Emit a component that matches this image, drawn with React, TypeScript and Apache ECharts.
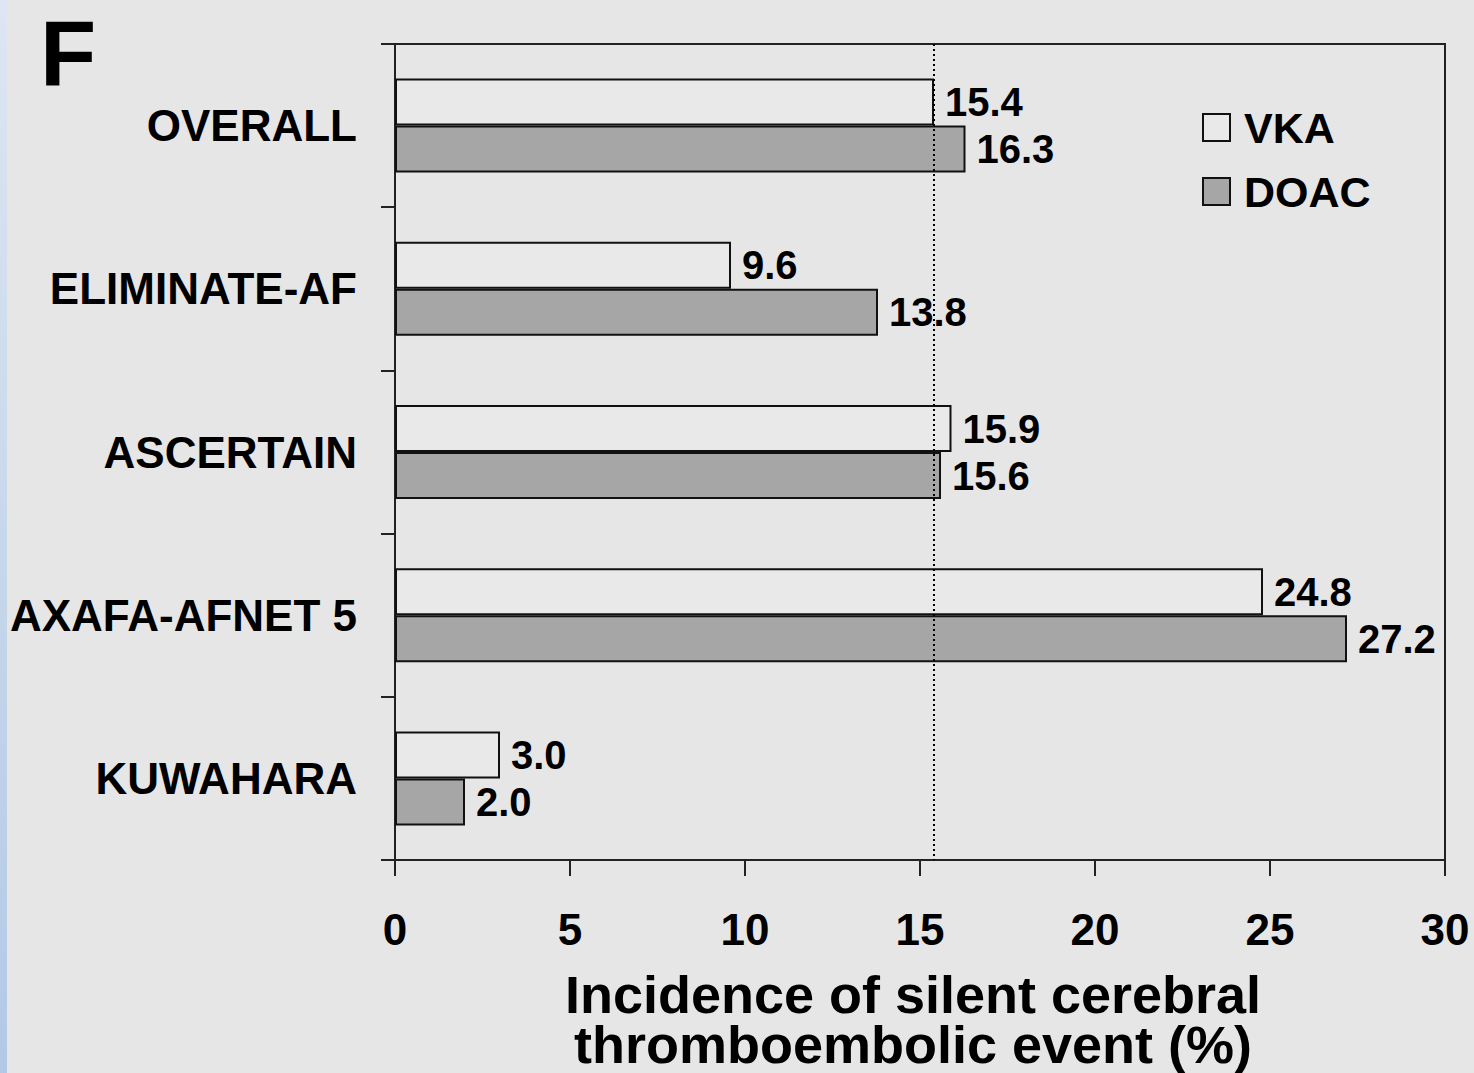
import React, { useEffect, useRef } from "react";
import * as echarts from "echarts";

const categories = ["OVERALL", "ELIMINATE-AF", "ASCERTAIN", "AXAFA-AFNET 5", "KUWAHARA"];
const vkaValues = [15.4, 9.6, 15.9, 24.8, 3.0];
const doacValues = [16.3, 13.8, 15.6, 27.2, 2.0];
const referenceLine = 15.4;
const xTicks = { min: 0, max: 30, interval: 5 };
const axisTitleLines = ["Incidence of silent cerebral", "thromboembolic event (%)"];
const panelLetter = "F";

const FONT = "'Liberation Sans', Arial, Helvetica, sans-serif";

export default function App() {
  const ref = useRef<HTMLDivElement>(null);
  useEffect(() => {
    document.body.style.margin = "0";
    const chart = echarts.init(ref.current!, null, { renderer: "svg" });
    const labelStyle = {
      show: true,
      position: "right",
      distance: 11,
      fontFamily: FONT,
      fontWeight: "bold",
      fontSize: 40,
      color: "#000",
      formatter: (p: any) => Number(p.value).toFixed(1),
    };
    const titleText = (text: string, y: number) => ({
      type: "text",
      x: 913,
      y,
      scaleX: 1.08,
      scaleY: 1.04,
      style: {
        text,
        fontFamily: FONT,
        fontWeight: "bold",
        fontSize: 50,
        fill: "#000",
        align: "center",
        verticalAlign: "middle",
      },
    });
    chart.setOption({
      animation: false,
      backgroundColor: "#e6e6e6",
      textStyle: { fontFamily: FONT },
      grid: { left: 395, right: 29, top: 44, bottom: 213, show: true, borderColor: "#222", borderWidth: 2, backgroundColor: "transparent" },
      legend: {
        orient: "vertical",
        left: 1197,
        top: 101,
        icon: "rect",
        itemWidth: 27,
        itemHeight: 27,
        itemGap: 21,
        textStyle: { fontFamily: FONT, fontWeight: "bold", fontSize: 43, color: "#000", lineHeight: 42, padding: [0, 0, 0, 9] },
        data: ["VKA", "DOAC"],
      },
      xAxis: {
        type: "value",
        min: xTicks.min,
        max: xTicks.max,
        interval: xTicks.interval,
        splitLine: { show: false },
        axisLine: { show: true, lineStyle: { color: "#222", width: 2 } },
        axisTick: { show: true, length: 16, lineStyle: { color: "#222", width: 2 } },
        axisLabel: { margin: 47, fontFamily: FONT, fontWeight: "bold", fontSize: 44, color: "#000" },
      },
      yAxis: {
        type: "category",
        inverse: true,
        data: categories,
        axisLine: { show: true, lineStyle: { color: "#222", width: 2 } },
        axisTick: { show: true, length: 14, lineStyle: { color: "#222", width: 2 } },
        axisLabel: { margin: 38, fontFamily: FONT, fontWeight: "bold", fontSize: 44, color: "#000" },
      },
      series: [
        {
          name: "VKA",
          type: "bar",
          data: vkaValues,
          barWidth: 47,
          barGap: "0%",
          itemStyle: { color: "#e9e9e9", borderColor: "#111", borderWidth: 2 },
          label: labelStyle,
          markLine: {
            silent: true,
            symbol: "none",
            label: { show: false },
            lineStyle: { color: "#000", width: 2, type: [2, 3] },
            data: [{ xAxis: referenceLine }],
          },
        },
        {
          name: "DOAC",
          type: "bar",
          data: doacValues,
          barWidth: 47,
          barGap: "0%",
          itemStyle: { color: "#a6a6a6", borderColor: "#111", borderWidth: 2 },
          label: labelStyle,
        },
      ],
      graphic: [
        {
          type: "rect",
          shape: { x: 0, y: 0, width: 7, height: 1073 },
          style: {
            fill: new echarts.graphic.LinearGradient(0, 0, 0, 1, [
              { offset: 0, color: "#dde6f2" },
              { offset: 1, color: "#b2c9e5" },
            ]),
          },
          silent: true,
        },
        {
          type: "text",
          x: 40,
          y: 53,
          style: { text: panelLetter, fontFamily: FONT, fontWeight: "bold", fontSize: 92, fill: "#000", verticalAlign: "middle" },
        },
        titleText(axisTitleLines[0], 995),
        titleText(axisTitleLines[1], 1045),
      ],
    });
    return () => chart.dispose();
  }, []);
  return <div ref={ref} style={{ width: 1474, height: 1073 }} />;
}
